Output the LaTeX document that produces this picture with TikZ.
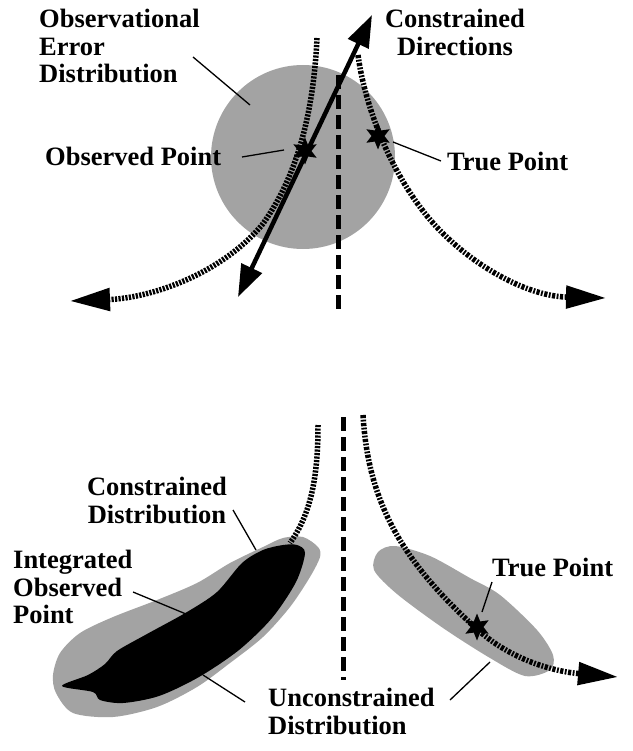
\documentclass[tikz,border=0pt]{standalone}
\usepackage{fontspec}
\setmainfont{Liberation Serif}
\usetikzlibrary{arrows.meta}
\usetikzlibrary{shapes.geometric}

\begin{document}
\begin{tikzpicture}[x=1pt, y=-1pt,
  lbl/.style={font=\fontsize{26.5}{27.5}\selectfont\bfseries, inner sep=0pt},
  leader/.style={line width=1.3pt},
  blur/.style={fill=black!36},
  cdot/.style={line width=5.5pt, dash pattern=on 2.2pt off 1.3pt},
  tdot/.style={line width=5.5pt, dash pattern=on 3.2pt off 1.5pt on 1.8pt off 1.5pt},
  axis/.style={line width=5pt, dash pattern=on 14pt off 6pt},
  bigtip/.style={-{Triangle[length=40pt,width=22pt]}},
  xstar/.style={star, star points=6, star point ratio=2.1, fill=black, minimum size=27pt, inner sep=0pt}
]
\useasboundingbox (0,0) rectangle (632,751);

% top: one observation
\fill[blur] (303,157) circle (92pt);
\draw[axis] (338,75) -- (338,312);
\coordinate (lc0) at (317,38);
\coordinate (lc1) at (70,301);
\draw[cdot, bigtip] (lc0) .. controls (314,100) and (302,170) .. (262,225)
  .. controls (220,275) and (150,298) .. (lc1);
\coordinate (rc0) at (358,55);
\coordinate (rc1) at (606,298);
\draw[tdot, bigtip] (rc0) .. controls (364,100) and (385,160) .. (420,207)
  .. controls (455,255) and (520,296) .. (rc1);
\coordinate (cdb) at (238,297);
\coordinate (cdt) at (372,15);
\draw[line width=4.5pt, {Triangle[length=32pt,width=22pt]}-{Triangle[length=32pt,width=22pt]}] (cdb) -- (cdt);
\node[xstar] (op) at (305,151) {};
\node[xstar] (tp) at (378,136) {};

\node[lbl, anchor=north west, align=left] (oed) at (39,9) {Observational\\Error\\Distribution};
\node[lbl, anchor=north, align=center] (cdir) at (455,9) {Constrained\\Directions};
\node[lbl, anchor=base west] (opl) at (45,166) {Observed Point};
\node[lbl, anchor=base west] (tpl) at (447,171) {True Point};
\coordinate (oedA) at (193,57);  \coordinate (oedB) at (250,105);
\coordinate (oplA) at (242,157); \coordinate (oplB) at (284,150);
\coordinate (tplA) at (441,161); \coordinate (tplB) at (393,142);
\draw[leader] (oedA) -- (oedB);
\draw[leader] (oplA) -- (oplB);
\draw[leader] (tplA) -- (tplB);

% bottom: integrated over many observations
\fill[blur] plot[smooth cycle] coordinates {(303,537) (318,547) (320,557) (310,577)
  (290,607) (263,637) (230,663) (197,687) (157,707) (113,717) (73,713) (56,693)
  (53,675) (60,653) (80,633) (113,617) (157,600) (197,583) (230,563) (263,547)
  (283,538)};
\fill[blur] plot[smooth cycle] coordinates {(378,552) (395,546) (430,556) (470,578)
  (500,595) (537,630) (553,655) (550,670) (525,676) (490,658) (443,628) (397,594)
  (374,570)};
\fill[black] plot[smooth cycle] coordinates {(297,545) (305,553) (296,582) (272,618)
  (239,650) (199,677) (159,696) (123,703) (100,700) (93,692) (62,686) (88,675)
  (105,664) (117,651) (147,634) (187,612) (217,592) (242,563) (263,550)
  (283,545)};
\draw[axis] (343,417) -- (343,680);
\coordinate (bl0) at (318,425);
\coordinate (bl1) at (290,543);
\draw[cdot] (bl0) .. controls (318,480) and (310,515) .. (bl1);
\coordinate (br0) at (363,415);
\coordinate (br1) at (618,677);
\draw[tdot, bigtip] (br0) .. controls (368,500) and (400,560) .. (478,630)
  .. controls (515,663) and (560,672) .. (br1);
\node[xstar] (tp2) at (477,627) {};

\node[lbl, anchor=north, align=center] (cdis) at (157,477) {Constrained\\Distribution};
\node[lbl, anchor=north west, align=left] (iop) at (13,550) {Integrated\\Observed\\Point};
\node[lbl, anchor=base west] (tpl2) at (492,576) {True Point};
\node[lbl, anchor=north west, align=left] (udis) at (268,688) {Unconstrained\\Distribution};
\coordinate (cdisA) at (233,510); \coordinate (cdisB) at (256,550);
\coordinate (iopA) at (133,592);  \coordinate (iopB) at (186,614);
\coordinate (tpl2A) at (492,582); \coordinate (tpl2B) at (482,612);
\coordinate (udisA) at (245,702); \coordinate (udisB) at (203,675);
\coordinate (udisC) at (450,700); \coordinate (udisD) at (490,662);
\draw[leader] (cdisA) -- (cdisB);
\draw[leader] (iopA) -- (iopB);
\draw[leader] (tpl2A) -- (tpl2B);
\draw[leader] (udisA) -- (udisB);
\draw[leader] (udisC) -- (udisD);
\end{tikzpicture}
\end{document}
